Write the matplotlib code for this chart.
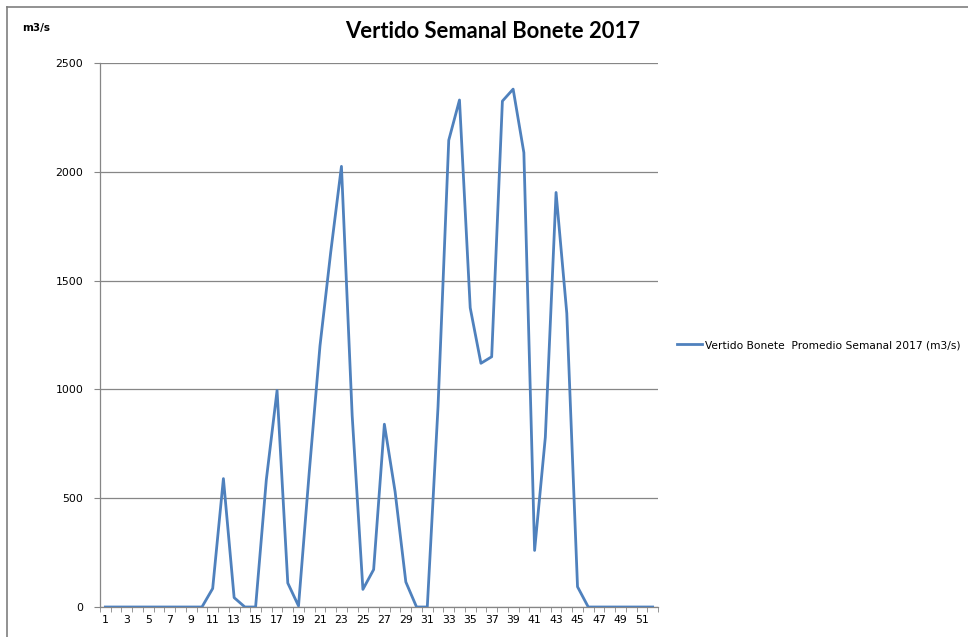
import matplotlib
matplotlib.use("Agg")
import matplotlib.pyplot as plt
from matplotlib.lines import Line2D

# weekly spill values, Bonete 2017 (m3/s)
weeks = list(range(1, 53))
vertido = [0, 0, 0, 0, 0, 0, 0, 0, 0, 0,
           85, 590, 43, 0, 0, 585, 995, 110, 5, 620,
           1200, 1630, 2025, 880, 81, 172, 840, 530, 115, 0,
           0, 920, 2145, 2330, 1375, 1120, 1150, 2325, 2380, 2088,
           260, 780, 1905, 1350, 93, 0, 0, 0, 0, 0,
           0, 0]
tick_labels = [str(w) for w in weeks[::2]]
yticks = [0, 500, 1000, 1500, 2000, 2500]

title = "Vertido Semanal Bonete 2017"
serie = "Vertido Bonete  Promedio Semanal 2017 (m3/s)"

W, H = 968, 637
fig = plt.figure(figsize=(W / 100, H / 100), dpi=100)
ax = fig.add_axes([100 / W, 1 - 607 / H, 558 / W, 544 / H])

gray = "#868686"
ax.plot(weeks, vertido, color="#4F81BD", lw=2.0, label=serie, zorder=3)

ax.set_xlim(0.5, 52.5)
ax.set_ylim(0, 2500)
ax.set_yticks(yticks)
ax.set_yticklabels([str(v) for v in yticks])
ax.set_xticks(weeks[::2])
ax.set_xticklabels(tick_labels)
ax.set_xticks([w + 0.5 for w in range(0, 53)], minor=True)
ax.grid(axis="y", color=gray, lw=0.9, zorder=0)
ax.set_axisbelow(True)

for s in ["top", "right"]:
    ax.spines[s].set_visible(False)
for s in ["left", "bottom"]:
    ax.spines[s].set_color(gray)
    ax.spines[s].set_linewidth(0.9)

ax.tick_params(axis="y", length=4, color=gray, labelsize=7.8, pad=8)
ax.tick_params(axis="x", which="major", length=0, labelsize=7.8, pad=6)
ax.tick_params(axis="x", which="minor", length=3.5, color=gray, direction="out")

fig.text(493 / W, 1 - 32 / H, title, ha="center", va="center",
         fontsize=15.8, fontweight="bold", family="Lato")
fig.text(22 / W, 1 - 28 / H, "m3/s", ha="left", va="center",
         fontsize=7.5, fontweight="bold")

ax.legend(loc="center left", bbox_to_anchor=(677 / W, 1 - 345 / H),
          bbox_transform=fig.transFigure, frameon=False, fontsize=7.7,
          handlelength=2.3, handletextpad=0.3, borderaxespad=0, borderpad=0)

# chart frame (top and left edges visible)
fig.add_artist(Line2D([7 / W, 1], [1 - 7 / H, 1 - 7 / H], color="#7f7f7f", lw=1.2))
fig.add_artist(Line2D([7 / W, 7 / W], [0, 1 - 7 / H], color="#7f7f7f", lw=1.2))

fig.savefig("out.png", dpi=100)
